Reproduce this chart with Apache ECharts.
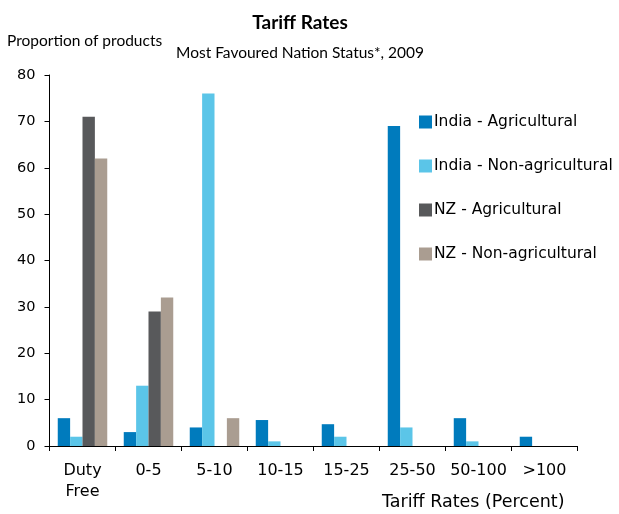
<!DOCTYPE html>
<html>
<head>
<meta charset="utf-8">
<script src="https://cdn.jsdelivr.net/npm/echarts@6/dist/echarts.min.js"></script>
<style>
  html, body { margin: 0; padding: 0; background: #fff; }
  #chart { width: 619px; height: 514px; }
</style>
</head>
<body>
<div id="chart"></div>
<script>
// Tariff bands (percent)
var categories = ['Duty\nFree', '0-5', '5-10', '10-15', '15-25', '25-50', '50-100', '>100'];

// Share of product lines in each band (per cent)
var indiaAgricultural    = [6, 3, 4, 5.6, 4.7, 69, 6, 2];
var indiaNonAgricultural = [2, 13, 76, 1, 2, 4, 1, 0];
var nzAgricultural       = [71, 29, 0, 0, 0, 0, 0, 0];
var nzNonAgricultural    = [62, 32, 6, 0, 0, 0, 0, 0];

var seriesNames = ['India - Agricultural', 'India - Non-agricultural', 'NZ - Agricultural', 'NZ - Non-agricultural'];
var seriesColors = ['#007bbd', '#5bc5e8', '#58595b', '#aa9d91'];
var seriesValues = [indiaAgricultural, indiaNonAgricultural, nzAgricultural, nzNonAgricultural];

var yTicks = [0, 10, 20, 30, 40, 50, 60, 70, 80];

var verdanaLike = "'DejaVu Sans', Verdana, sans-serif";
var calibriLike = "Lato, Carlito, Calibri, sans-serif";

var chart = echarts.init(document.getElementById('chart'), null, { renderer: 'canvas' });

chart.setOption({
  animation: false,
  backgroundColor: '#ffffff',
  title: [
    {
      text: 'Tariff Rates',
      left: 295, top: 8, textAlign: 'center',
      textStyle: { fontFamily: calibriLike, fontWeight: 'bold', fontSize: 19, color: '#000' }
    },
    {
      text: 'Most Favoured Nation Status*, 2009',
      left: 295, top: 40, textAlign: 'center',
      textStyle: { fontFamily: calibriLike, fontWeight: 'normal', fontSize: 15.5, color: '#000' }
    },
    {
      text: 'Proportion of products',
      left: 2, top: 28,
      textStyle: { fontFamily: calibriLike, fontWeight: 'normal', fontSize: 15.5, color: '#000' }
    }
  ],
  legend: {
    orient: 'vertical',
    left: 414, top: 109,
    itemWidth: 13, itemHeight: 13, itemGap: 28,
    icon: 'rect',
    textStyle: { fontFamily: verdanaLike, fontSize: 15.5, color: '#000', padding: [0, 0, 0, -3] },
    data: seriesNames
  },
  grid: { left: 49.5, right: 41.5, top: 75, bottom: 68, containLabel: false },
  xAxis: {
    type: 'category',
    data: categories,
    name: 'Tariff Rates (Percent)',
    nameLocation: 'end',
    nameGap: 0,
    nameTextStyle: {
      fontFamily: verdanaLike, fontSize: 17.5, color: '#000',
      align: 'right', verticalAlign: 'top', padding: [47, 13, 0, 0]
    },
    axisLine: { lineStyle: { color: '#000', width: 1 } },
    axisTick: { show: true, length: 5, lineStyle: { color: '#000' } },
    axisLabel: {
      interval: 0,
      fontFamily: verdanaLike, fontSize: 16, color: '#000', margin: 14, lineHeight: 21
    }
  },
  yAxis: {
    type: 'value',
    min: yTicks[0], max: yTicks[yTicks.length - 1], interval: 10,
    axisLine: { show: true, lineStyle: { color: '#000', width: 1 } },
    axisTick: { show: true, length: 5, lineStyle: { color: '#000' } },
    axisLabel: { fontFamily: verdanaLike, fontSize: 14.5, color: '#000', margin: 14 },
    splitLine: { show: false }
  },
  series: seriesValues.map(function (vals, i) {
    return {
      name: seriesNames[i],
      type: 'bar',
      data: vals,
      barGap: '0%',
      barCategoryGap: '25%',
      itemStyle: { color: seriesColors[i] }
    };
  })
});
</script>
</body>
</html>
